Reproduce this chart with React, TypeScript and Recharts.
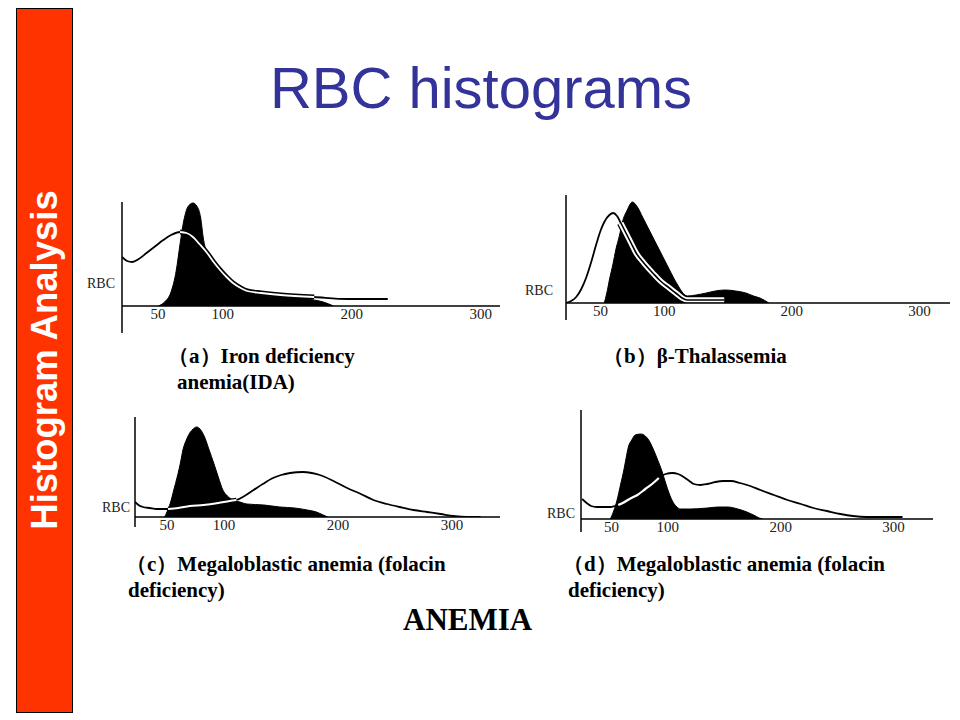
import React from 'react';
import { ComposedChart, Area, Line, XAxis, YAxis, ReferenceLine } from 'recharts';

type Pt = [number, number];

// Cell volume tick labels (fL)
const volumeTicks = [50, 100, 200, 300];

// Panel (a) Iron deficiency anemia
const aNormal: Pt[] = [[50,0],[55,4],[60,14],[64,35],[67,62],[70,86],[73,99],[77,103],[80,100],[83,88],[85,68],[88,52],[92,44],[98,33],[105,24],[114,16],[125,12],[145,9],[165,7],[178,4],[186,0]];
const aPatient: Pt[] = [[22,49],[26,45],[30,44],[35,47],[41,53],[48,60],[54,66],[60,71],[67,74],[72,73],[77,69],[82,62],[88,53],[93,44],[98,36],[103,29],[108,23],[114,18],[119,15],[130,13],[145,11],[171,9],[197,7],[228,7]];
const aOverlap: [number, number] = [67, 171];

// Panel (b) beta-Thalassemia
const bNormal: Pt[] = [[53,0],[55,10],[57,23],[60,40],[62,53],[65,68],[67,80],[71,93],[75,101],[79,96],[83,86],[87,76],[91,66],[95,56],[99,46],[103,36],[107,26],[111,17],[114,11],[118,7],[125,8],[133,10],[140,12],[148,13],[156,12],[164,10],[170,7],[175,5],[182,0]];
const bPatient: Pt[] = [[23,0],[27,2],[31,6],[35,14],[39,26],[43,42],[47,60],[50,72],[53,81],[57,88],[60,90],[63,87],[66,80],[70,70],[74,60],[78,50],[84,40],[91,30],[97,22],[104,15],[110,9],[114,5],[118,3],[130,3],[147,3]];
const bOverlap: [number, number] = [66, 147];

// Panel (c) Megaloblastic anemia
const cNormal: Pt[] = [[48,0],[50,5],[53,14],[56,27],[59,40],[62,55],[64,67],[67,77],[70,84],[73,88],[76,90],[79,88],[83,80],[87,67],[91,54],[95,40],[99,27],[103,21],[108,17],[114,15],[120,13],[135,12],[149,10],[162,9],[173,7],[181,5],[187,2],[191,0]];
const cPatient: Pt[] = [[22,15],[25,12],[29,10],[35,9],[41,8],[46,8],[51,8],[60,9],[70,11],[82,12],[95,14],[105,16],[111,17],[118,21],[126,27],[134,33],[143,39],[150,42],[158,44],[169,45],[177,44],[184,42],[196,36],[208,29],[220,23],[231,17],[243,13],[254,10],[266,7],[278,5],[290,3],[301,1],[313,0],[325,0]];
const cOverlap: [number, number] = [51, 111];

// Panel (d) Megaloblastic anemia
const dNormal: Pt[] = [[49,0],[52,8],[55,19],[58,34],[61,49],[63,61],[65,72],[68,79],[71,84],[76,85],[80,83],[83,79],[87,70],[91,59],[95,47],[98,36],[101,26],[105,16],[108,12],[111,10],[120,10],[135,11],[145,12],[153,12],[162,10],[170,7],[176,4],[181,1],[184,0]];
const dPatient: Pt[] = [[24,20],[28,16],[32,13],[37,12],[43,12],[49,12],[53,13],[56,14],[60,16],[66,20],[73,24],[80,30],[86,35],[92,41],[98,45],[104,46],[109,45],[114,42],[119,38],[123,35],[129,34],[135,35],[142,37],[149,38],[156,38],[164,36],[173,33],[182,29],[194,24],[206,19],[218,15],[229,11],[241,8],[253,5],[264,3],[276,2],[290,2],[308,2]];
const dOverlap: [number, number] = [56, 92];

const yAxisLabel = 'RBC';

type Layer = { stroke: string; width: number };

interface PanelProps {
  normal: Pt[];
  patient: Pt[];
  overlap: [number, number];
  domain: [number, number];
  yTop: number;
  ext: number;
  rbcAt: number;
  rbcGap: number;
  axisX: number;
  axisTop: number;
  plotW: number;
  layers: Layer[];
}

const YW = 45;
const MT = 5;
const MR = 8;
const XH = 32;
const SERIF = '"Liberation Serif", "Times New Roman", serif';

function buildRows(normal: Pt[], patient: Pt[], overlap: [number, number]) {
  const map = new Map<number, any>();
  const get = (x: number) => {
    if (!map.has(x)) map.set(x, { x });
    return map.get(x);
  };
  normal.forEach(([x, y]) => { get(x).n = y; });
  patient.forEach(([x, y]) => {
    const r = get(x);
    r.p = y;
    if (x >= overlap[0] && x <= overlap[1]) r.h = y;
  });
  return Array.from(map.values()).sort((a, b) => a.x - b.x);
}

function Panel(props: PanelProps) {
  const { normal, patient, overlap, domain, yTop, ext, rbcAt, rbcGap, axisX, axisTop, plotW, layers } = props;
  const rows = buildRows(normal, patient, overlap);
  const width = YW + plotW + MR;
  const height = MT + yTop + XH;
  return (
    <div style={{ position: 'absolute', left: axisX - YW, top: axisTop - MT, width, height }}>
      <ComposedChart width={width} height={height} data={rows} margin={{ top: MT, right: MR, left: 0, bottom: 0 }}>
        <XAxis
          dataKey="x"
          type="number"
          domain={domain}
          allowDataOverflow
          ticks={volumeTicks}
          interval={0}
          height={XH}
          tickLine={false}
          tickSize={1}
          tickMargin={1}
          fontSize={15}
          fontFamily={SERIF}
          axisLine={{ stroke: '#000', strokeWidth: 1.5 }}
          tick={{ fill: '#222', fontSize: 15, fontFamily: SERIF }}
        />
        <YAxis
          type="number"
          domain={[0, yTop]}
          allowDataOverflow
          ticks={[rbcAt]}
          tickFormatter={() => yAxisLabel}
          width={YW}
          axisLine={false}
          tickLine={false}
          tickSize={0}
          tickMargin={rbcGap}
          fontSize={14}
          fontFamily={SERIF}
          tick={{ fill: '#222', fontSize: 14, fontFamily: SERIF }}
        />
        <ReferenceLine
          segment={[{ x: domain[0], y: -ext }, { x: domain[0], y: yTop }]}
          ifOverflow="visible"
          stroke="#000"
          strokeWidth={1.5}
        />
        <Area
          type="monotone"
          dataKey="n"
          connectNulls
          stroke="#000"
          strokeWidth={1}
          fill="#000"
          fillOpacity={1}
          dot={false}
          activeDot={false}
          isAnimationActive={false}
        />
        <Line
          type="monotone"
          dataKey="p"
          connectNulls
          stroke="#000"
          strokeWidth={1.8}
          dot={false}
          activeDot={false}
          isAnimationActive={false}
        />
        {layers.map((l, i) => (
          <Line
            key={i}
            type="monotone"
            dataKey="h"
            connectNulls
            stroke={l.stroke}
            strokeWidth={l.width}
            dot={false}
            activeDot={false}
            isAnimationActive={false}
          />
        ))}
      </ComposedChart>
    </div>
  );
}

const capStyle: React.CSSProperties = {
  position: 'absolute',
  fontFamily: SERIF,
  fontWeight: 'bold',
  fontSize: 21,
  lineHeight: '20px',
  color: '#000',
  whiteSpace: 'nowrap',
};

function Caption({ x, baseline, text }: { x: number; baseline: number; text: string }) {
  return <div style={{ ...capStyle, left: x, top: baseline - 16 }}>{text}</div>;
}

export default function App() {
  return (
    <div style={{ position: 'absolute', left: 0, top: 0, width: 960, height: 720, background: '#fff', overflow: 'hidden' }}>
      {/* side bar */}
      <div style={{ position: 'absolute', left: 16, top: 8, width: 55, height: 703, background: '#FF3300', border: '1px solid #000' }} />
      <div
        style={{
          position: 'absolute',
          left: 45 - 250,
          top: 360 - 20,
          width: 500,
          height: 40,
          lineHeight: '40px',
          textAlign: 'center',
          transform: 'rotate(-90deg)',
          color: '#fff',
          fontFamily: '"Liberation Sans", Arial, sans-serif',
          fontWeight: 'bold',
          fontSize: 36.5,
          whiteSpace: 'nowrap',
        }}
      >
        Histogram Analysis
      </div>
      {/* title */}
      <div
        style={{
          position: 'absolute',
          left: 0,
          width: 962,
          top: 112 - 56,
          textAlign: 'center',
          fontFamily: '"Liberation Sans", Arial, sans-serif',
          fontSize: 58,
          lineHeight: '64px',
          color: '#333399',
          whiteSpace: 'nowrap',
        }}
      >
        RBC histograms
      </div>

      <Panel normal={aNormal} patient={aPatient} overlap={aOverlap} domain={[22, 315]} yTop={104} ext={27} rbcAt={23} rbcGap={7}
        axisX={122} axisTop={202} plotW={378} layers={[{ stroke: '#000', width: 5 }, { stroke: '#fff', width: 1.8 }]} />
      <Panel normal={bNormal} patient={bPatient} overlap={bOverlap} domain={[23, 324]} yTop={108} ext={17} rbcAt={13} rbcGap={13}
        axisX={566} axisTop={195} plotW={384} layers={[{ stroke: '#000', width: 8 }, { stroke: '#fff', width: 5.5 }, { stroke: '#000', width: 1.6 }]} />
      <Panel normal={cNormal} patient={cPatient} overlap={cOverlap} domain={[22, 342]} yTop={100} ext={10} rbcAt={10} rbcGap={5}
        axisX={135} axisTop={417} plotW={365} layers={[{ stroke: '#000', width: 4.5 }, { stroke: '#fff', width: 2 }]} />
      <Panel normal={dNormal} patient={dPatient} overlap={dOverlap} domain={[23, 335]} yTop={109} ext={13} rbcAt={6} rbcGap={6}
        axisX={581} axisTop={410} plotW={352} layers={[{ stroke: '#000', width: 4.5 }, { stroke: '#fff', width: 2.2 }]} />

      <Caption x={168} baseline={362} text="（a）Iron deficiency" />
      <Caption x={177} baseline={388} text="anemia(IDA)" />
      <Caption x={603} baseline={362} text="（b）β-Thalassemia" />
      <Caption x={126} baseline={570} text="（c）Megaloblastic anemia (folacin" />
      <Caption x={128} baseline={596} text="deficiency)" />
      <Caption x={563} baseline={570} text="（d）Megaloblastic anemia (folacin" />
      <Caption x={568} baseline={596} text="deficiency)" />

      <div
        style={{
          position: 'absolute',
          left: 403,
          top: 629 - 25,
          fontFamily: SERIF,
          fontWeight: 'bold',
          fontSize: 31,
          lineHeight: '31px',
          color: '#000',
          whiteSpace: 'nowrap',
        }}
      >
        ANEMIA
      </div>
    </div>
  );
}
